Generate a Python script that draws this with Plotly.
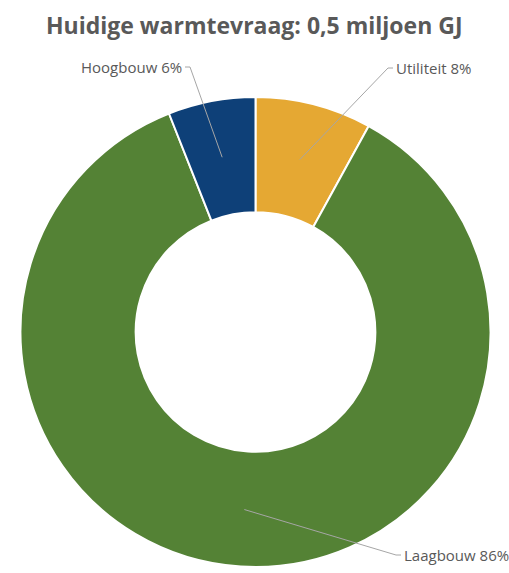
import numpy as np
import plotly.graph_objects as go

categories = ["Utiliteit", "Laagbouw", "Hoogbouw"]
values = [8, 86, 6]
colors = ["#E5A833", "#548235", "#0E4078"]
title_text = "Huidige warmtevraag: 0,5 miljoen GJ"

W, H = 509, 573
cx, cy, R = 255.5, 332, 235  # pixel geometry of the pie
hole = 0.51

fig = go.Figure(go.Pie(
    labels=categories, values=values, sort=False, direction="clockwise",
    rotation=0, hole=hole, textinfo="none", hoverinfo="label+percent",
    marker=dict(colors=colors, line=dict(color="white", width=2)),
    domain=dict(x=[(cx - R) / W, (cx + R) / W],
                y=[1 - (cy + R) / H, 1 - (cy - R) / H]),
    showlegend=False,
))

# leader lines from slice mid-angle to label
label_pos = {"Utiliteit": (388, 68, "left"),
             "Hoogbouw": (190, 67, "right"),
             "Laagbouw": (396, 555, "left")}
total = sum(values)
cum = 0
shapes, annos = [], []
px = lambda x: x / W
py = lambda y: 1 - y / H
for cat, v in zip(categories, values):
    mid = (cum + v / 2) / total * 2 * np.pi
    cum += v
    ax = cx + 0.757 * R * np.sin(mid)
    ay = cy - 0.757 * R * np.cos(mid)
    lx, ly, side = label_pos[cat]
    ex = lx + (5 if side == "left" else -5)
    shapes.append(dict(type="path", xref="paper", yref="paper",
                       path=f"M {px(ax)} {py(ay)} L {px(lx)} {py(ly)} L {px(ex)} {py(ly)}",
                       line=dict(color="#A6A6A6", width=1)))
    pct = round(v / total * 100)
    annos.append(dict(text=f"{cat} {pct}%", xref="paper", yref="paper",
                      x=px(ex + (1 if side == "left" else -1)), y=py(ly),
                      xanchor=side, yanchor="middle", showarrow=False,
                      font=dict(family="Open Sans", size=15, color="#595959")))

annos.append(dict(text=f"<b>{title_text}</b>", xref="paper", yref="paper",
                  x=0.5, y=1 - 25 / H, xanchor="center", yanchor="middle",
                  showarrow=False,
                  font=dict(family="Open Sans", size=23, color="#595959")))

fig.update_layout(width=W, height=H, margin=dict(l=0, r=0, t=0, b=0),
                  paper_bgcolor="white", plot_bgcolor="white",
                  shapes=shapes, annotations=annos)
fig.write_html("out.html", config={"displayModeBar": False},
               post_script="document.body.style.margin='0';")
